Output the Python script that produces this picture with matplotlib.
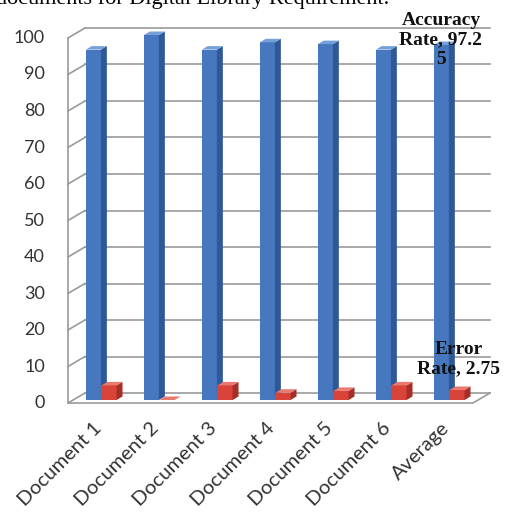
import matplotlib
matplotlib.use("Agg")
import matplotlib.pyplot as plt
from matplotlib.patches import Polygon

# ---- data ----
categories = ['Document 1', 'Document 2', 'Document 3', 'Document 4',
              'Document 5', 'Document 6', 'Average']
accuracy = [96, 100, 96, 98, 97.5, 96, 97.25]
error = [4, 0, 4, 2, 2.5, 4, 2.75]
yticks = [0, 10, 20, 30, 40, 50, 60, 70, 80, 90, 100]
acc_label = 'Accuracy\nRate, 97.2\n5'
err_label = 'Error\nRate, 2.75'
caption = 'documents for Digital Library Requirement.'

W, H = 508, 517
fig = plt.figure(figsize=(W / 100, H / 100), dpi=100)
ax = fig.add_axes([0, 0, 1, 1])
ax.set_xlim(-1.662, 7.097)
ax.set_ylim(-31.23, 110.41)
ax.axis('off')

DX, DY = 0.293, 2.74          # 3-D depth vector (data units)
xL, xR = -0.49, 6.493         # floor front left/right
grid_c = '#9a9a9a'

# walls and gridlines
ax.plot([xL, xL], [0, 100], color=grid_c, lw=1.2, zorder=1)
for v in yticks:
    ax.plot([xL, xL + DX], [v, v + DY], color=grid_c, lw=1.2, zorder=1)
    ax.plot([xL + DX, xR + DX], [v + DY, v + DY], color=grid_c, lw=1.2, zorder=1)
    ax.text(-0.886, v, str(v), ha='right', va='center', fontsize=13,
            family='Lato', color='#333333')
# floor
ax.plot([xL, xR, xR + DX], [0, 0, DY], color=grid_c, lw=1.2, zorder=1)

f0, f1 = 0.3, 0.65
bw = 0.26


def bar3d(x0, h, front, side, top):
    x1 = x0 + bw
    ax.bar(x0 + f0 * DX, h, width=bw, bottom=f0 * DY, align='edge',
           color=front, lw=0, zorder=3)
    ax.add_patch(Polygon([(x1 + f0 * DX, f0 * DY), (x1 + f1 * DX, f1 * DY),
                          (x1 + f1 * DX, h + f1 * DY), (x1 + f0 * DX, h + f0 * DY)],
                         closed=True, color=side, lw=0, zorder=3))
    ax.add_patch(Polygon([(x0 + f0 * DX, h + f0 * DY), (x1 + f0 * DX, h + f0 * DY),
                          (x1 + f1 * DX, h + f1 * DY), (x0 + f1 * DX, h + f1 * DY)],
                         closed=True, color=top, lw=0, zorder=3))


for i, (a, e) in enumerate(zip(accuracy, error)):
    bar3d(i - 0.27, a, '#4677bf', '#2e5896', '#76a0da')
    bar3d(i + 0.0, e, '#d8443a', '#a52f28', '#ea7a70')

for i, c in enumerate(categories):
    ax.text(i - 0.07, -4.6, c, rotation=45, ha='right', va='top',
            rotation_mode='anchor', fontsize=14.5, family='Lato', color='#333333')

ax.text(5.941, 99.45, acc_label, ha='center', va='center', fontsize=14,
        family='Liberation Serif', fontweight='bold', color='#111111',
        multialignment='center', zorder=5)
ax.text(6.252, 12.05, err_label, ha='center', va='center', fontsize=14,
        family='Liberation Serif', fontweight='bold', color='#111111',
        multialignment='center', zorder=5)

fig.text(-0.008, 1 - 4 / H, caption, ha='left', va='baseline', fontsize=16,
         family='Liberation Serif', color='black')

fig.savefig('out.png', dpi=100)
